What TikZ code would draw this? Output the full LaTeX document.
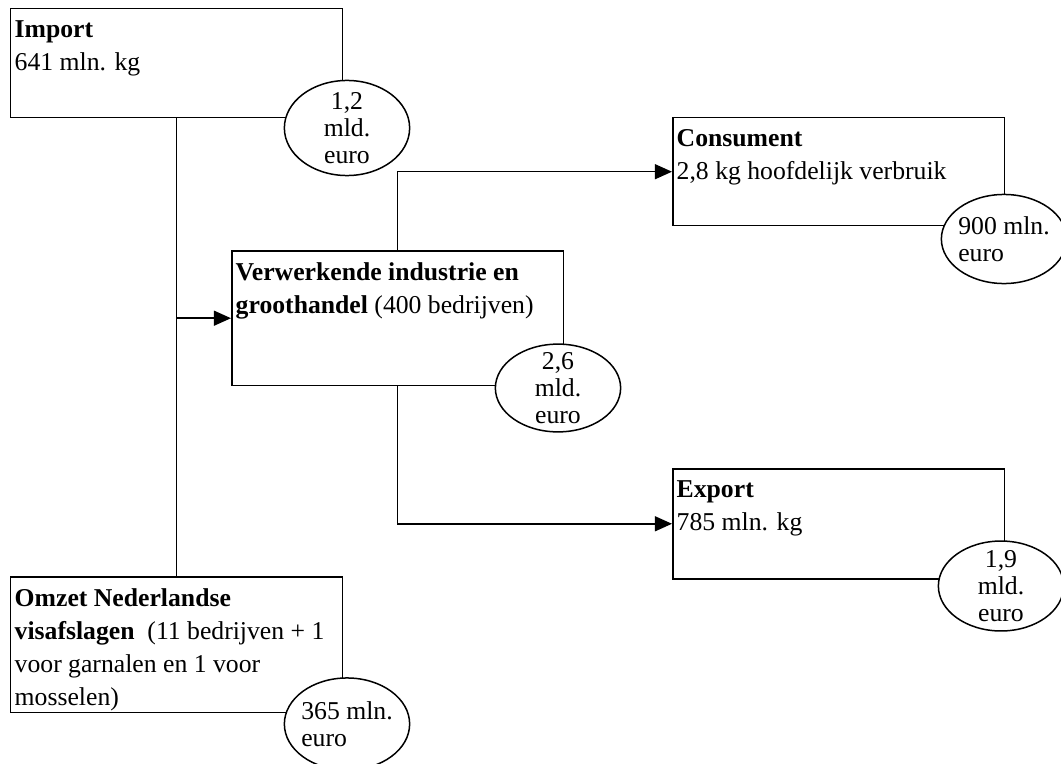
\documentclass[tikz,border=0pt]{standalone}
\usepackage{fontspec}
\setmainfont{Liberation Serif}
\usetikzlibrary{shapes.geometric,arrows.meta}
\tikzset{
  frame/.style={draw, line width=0.7pt, anchor=north west, minimum width=155pt, inner sep=0pt},
  boxtxt/.style={anchor=north west, align=left, inner xsep=2pt, inner ysep=5.5pt, font=\fontsize{12}{15.5}\selectfont},
  oval/.style={ellipse, draw, fill=white, line width=0.7pt, minimum width=58.5pt, inner sep=0pt},
  ovaltxt/.style={inner sep=0pt, font=\fontsize{12}{12.5}\selectfont},
  flow/.style={line width=0.7pt, -{Triangle[length=8pt,width=7pt]}}
}
\begin{document}
\begin{tikzpicture}[x=0.467pt,y=-0.467pt]
\useasboundingbox (0,0) rectangle (1061,764);
% boxes
\node[frame, minimum height=50.9pt] (imp) at (10,8) {};
\node[frame, minimum height=63pt] (verw) at (231,250) {};
\node[frame, minimum height=50.4pt] (cons) at (672,117) {};
\node[frame, minimum height=51.4pt] (exp) at (672,468) {};
\node[frame, minimum height=63.5pt] (omz) at (10,576) {};
% lines
\draw[line width=0.7pt] (imp.south) -- (omz.north);
\draw[flow] (imp.south |- verw.west) -- (verw.west);
\draw[flow] (verw.north) |- (cons.west);
\draw[flow] (verw.south) |- (exp.west);
% texts
\node[boxtxt] (imptxt) at (imp.north west) {\textbf{Import}\\641 mln. kg};
\node[boxtxt] (verwtxt) at (verw.north west) {\textbf{Verwerkende industrie en}\\\textbf{groothandel} (400 bedrijven)};
\node[boxtxt] (constxt) at (cons.north west) {\textbf{Consument}\\2,8 kg hoofdelijk verbruik};
\node[boxtxt] (exptxt) at (exp.north west) {\textbf{Export}\\785 mln. kg};
\node[boxtxt] (omztxt) at (omz.north west) {\textbf{Omzet Nederlandse}\\\textbf{visafslagen}\ \ (11 bedrijven + 1\\voor garnalen en 1 voor\\mosselen)};
% ovals
\node[oval, minimum height=44.4pt] (impval) at (347,128) {};
\node[ovaltxt, align=center] (impvaltxt) at (impval) {1,2\\mld.\\euro};
\node[oval, minimum height=41pt] (verwval) at (558,388) {};
\node[ovaltxt, align=center] (verwvaltxt) at (verwval) {2,6\\mld.\\euro};
\node[oval, minimum height=41.6pt] (consval) at (1004,239) {};
\node[ovaltxt, align=left] (consvaltxt) at (consval) {900 mln.\\euro};
\node[oval, minimum height=42pt] (expval) at (1001,586) {};
\node[ovaltxt, align=center] (expvaltxt) at (expval) {1,9\\mld.\\euro};
\node[oval, minimum height=43pt] (omzval) at (347,724) {};
\node[ovaltxt, align=left] (omzvaltxt) at (omzval) {365 mln.\\euro};
\end{tikzpicture}
\end{document}
